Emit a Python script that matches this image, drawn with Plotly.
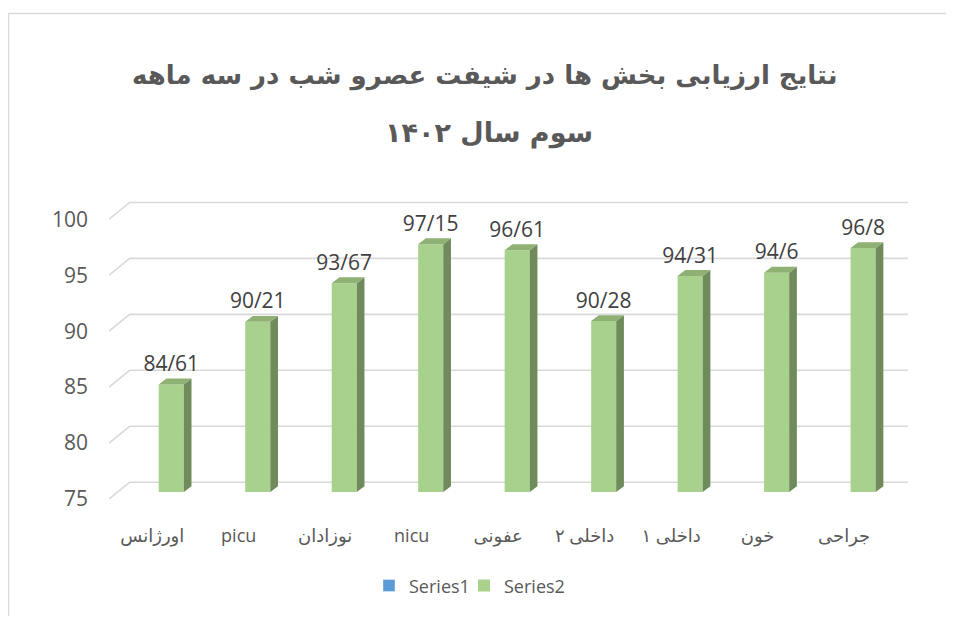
import plotly.graph_objects as go

# ---------------- data ----------------
categories = ["اورژانس", "picu", "نوزادان", "nicu", "عفونی", "داخلی ۲", "داخلی ۱", "خون", "جراحی"]
values = [84.61, 90.21, 93.67, 97.15, 96.61, 90.28, 94.31, 94.6, 96.8]
value_labels = ["84/61", "90/21", "93/67", "97/15", "96/61", "90/28", "94/31", "94/6", "96/8"]
y_ticks = [75, 80, 85, 90, 95, 100]
title_line1 = "نتایج ارزیابی بخش ها در شیفت عصرو شب در سه ماهه"
title_line2 = "سوم سال ۱۴۰۲"
series_names = ["Series1", "Series2"]

# ---------------- style / geometry ----------------
OFF = 8                      # page body margin of the html page
W, H = 954 - 2 * OFF, 624 - 2 * OFF
ML, MR, MT, MB = 101, 38, 192, 113
Y_MIN, Y_MAX = 75, 101.72
X_MIN, X_MAX = -0.5, 8.739
WALL_DX, WALL_DY = 0.239, 1.5        # depth offset of back wall (axis units)
BAR_SHIFT_X, BAR_SHIFT_Y = 0.22, 0.62
BAR_W = 0.29
SIDE_DX, SIDE_DY = 0.089, 0.53

FRONT = "#A9D18E"
SIDE = "#6F8B5B"
TOP = "#8FB174"
BLUE = "#5B9BD5"
GRID = "#D9D9D9"
TXT = "#595959"
NUMFONT = "Open Sans, DejaVu Sans, sans-serif"

PW = W - ML - MR
PH = H - MT - MB


def paper_x(px):
    return (px - OFF - ML) / PW


def paper_y(py):
    return (H - MB - (py - OFF)) / PH


xpos = list(range(len(categories)))
bar_x = [x + BAR_SHIFT_X for x in xpos]
base = Y_MIN + BAR_SHIFT_Y

fig = go.Figure()

# legend-only Series1 (no visible values)
fig.add_trace(go.Bar(x=bar_x, y=[None] * len(values), name=series_names[0],
                     marker_color=BLUE, showlegend=True))
# front faces of Series2
fig.add_trace(go.Bar(x=bar_x, y=[v - Y_MIN for v in values], base=base,
                     width=BAR_W, name=series_names[1], marker=dict(color=FRONT, line_width=0),
                     hoverinfo="skip"))
# invisible spacer entry so the last legend label is not clipped
fig.add_trace(go.Scatter(x=[None], y=[None], mode="markers", name=" ",
                         marker=dict(color="rgba(0,0,0,0)"), showlegend=True, hoverinfo="skip"))

# side and top faces
sx, sy = [], []
tx, ty = [], []
for xc, v in zip(bar_x, values):
    r = xc + BAR_W / 2
    l = xc - BAR_W / 2
    t = v + BAR_SHIFT_Y
    sx += [r, r + SIDE_DX, r + SIDE_DX, r, r, None]
    sy += [base, base + SIDE_DY, t + SIDE_DY, t, base, None]
    tx += [l, r, r + SIDE_DX, l + SIDE_DX, l, None]
    ty += [t, t, t + SIDE_DY, t + SIDE_DY, t, None]
fig.add_trace(go.Scatter(x=sx, y=sy, mode="lines", fill="toself", fillcolor=SIDE,
                         line=dict(width=0, color=SIDE), showlegend=False, hoverinfo="skip"))
fig.add_trace(go.Scatter(x=tx, y=ty, mode="lines", fill="toself", fillcolor=TOP,
                         line=dict(width=0, color=TOP), showlegend=False, hoverinfo="skip"))

# value labels
fig.add_trace(go.Scatter(x=bar_x, y=[v + BAR_SHIFT_Y + SIDE_DY + 0.2 for v in values],
                         mode="text", text=value_labels, textposition="top center",
                         textfont=dict(size=21, color="#404040", family=NUMFONT),
                         showlegend=False, hoverinfo="skip", cliponaxis=False))

# 3D gridlines (back wall + floor diagonals), from tick values
shapes = []
for v in y_ticks:
    shapes.append(dict(type="path", xref="x", yref="y", layer="below",
                       path=f"M{X_MIN},{v} L{X_MIN + WALL_DX},{v + WALL_DY} L{len(categories) - 0.5 + WALL_DX},{v + WALL_DY}",
                       line=dict(color=GRID, width=1.6)))
# outer chart border
shapes.append(dict(type="rect", xref="paper", yref="paper",
                   x0=paper_x(8.5), x1=paper_x(980), y0=paper_y(660), y1=paper_y(11),
                   line=dict(color=GRID, width=1.5), layer="below"))

annotations = [
    dict(text="<b>" + title_line1 + "</b>", xref="paper", yref="paper",
         x=paper_x(484), y=paper_y(74), xanchor="center", yanchor="middle", showarrow=False,
         font=dict(family="DejaVu Sans", size=26, color=TXT)),
    dict(text="<b>" + title_line2 + "</b>", xref="paper", yref="paper",
         x=paper_x(489), y=paper_y(132), xanchor="center", yanchor="middle", showarrow=False,
         font=dict(family="DejaVu Sans", size=27, color=TXT)),
]

fig.update_layout(
    width=W, height=H,
    margin=dict(l=ML, r=MR, t=MT, b=MB, pad=0),
    paper_bgcolor="white", plot_bgcolor="white",
    barmode="overlay",
    shapes=shapes, annotations=annotations,
    legend=dict(orientation="h", x=paper_x(369), y=paper_y(591), xanchor="left", yanchor="middle",
                font=dict(size=18, color=TXT, family=NUMFONT), itemwidth=30,
                entrywidth=50, entrywidthmode="pixels",
                bgcolor="rgba(0,0,0,0)"),
    xaxis=dict(range=[X_MIN, X_MAX], tickvals=xpos, ticktext=categories,
               showgrid=False, zeroline=False, showline=False, ticks="",
               ticklabelstandoff=24,
               tickfont=dict(size=18, color=TXT, family=NUMFONT), fixedrange=True),
    yaxis=dict(range=[Y_MIN, Y_MAX], tickvals=y_ticks, showgrid=False, zeroline=False,
               showline=False, ticks="", ticklabelstandoff=20,
               tickfont=dict(size=21, color=TXT, family=NUMFONT), fixedrange=True),
)

fig.write_html("out.html", config={"displayModeBar": False})
